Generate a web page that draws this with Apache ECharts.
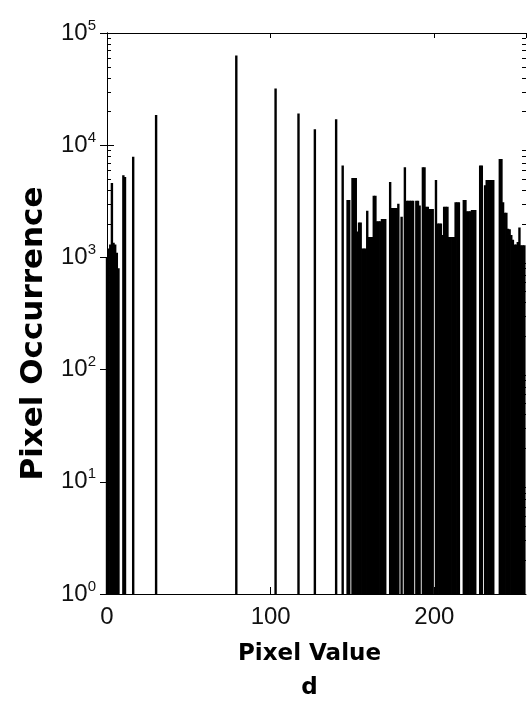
<!DOCTYPE html>
<html>
<head>
<meta charset="utf-8">
<title>Pixel Value histogram</title>
<script src="https://cdn.jsdelivr.net/npm/echarts@6/dist/echarts.min.js"></script>
<style>
    html, body { margin: 0; padding: 0; background: #fff; }
    #chart { width: 529px; height: 701px; }
</style>
</head>
<body>
<div id="chart"></div>
<script>
    // non-empty histogram bins: pixel value and how often it occurs
    const binValues = [
        0, 1, 2, 3, 4, 5, 6, 7, 10, 11, 16, 30, 79, 103, 117, 127, 140,
        144, 147, 148, 150, 151, 152, 153, 154, 155, 156, 157, 158, 159, 160,
        161, 162, 163, 164, 165, 166, 167, 168, 169, 170, 173, 174, 175, 176,
        177, 178, 180, 182, 183, 184, 185, 186, 187, 189, 190, 191, 193, 194,
        195, 196, 197, 198, 199, 201, 202, 203, 204, 205, 206, 207, 208, 209,
        210, 211, 212, 213, 214, 215, 218, 219, 220, 221, 222, 223, 224, 225,
        228, 229, 231, 232, 233, 234, 235, 236, 240, 241, 242, 243, 244, 245,
        246, 247, 248, 249, 250, 251, 252, 253, 254, 255
    ];
    const binCounts = [
        1000, 1200, 1300, 4600, 1350, 1300, 1100, 800, 5400, 5200, 7900, 18600, 63000, 32000, 19200, 13900, 17000,
        6600, 3250, 3250, 5100, 5100, 5100, 1700, 2050, 2050, 1200, 1200, 1200, 2600, 1520,
        1520, 1520, 3540, 3540, 2100, 2100, 2100, 2200, 2200, 2200, 4700, 2750, 2750, 2750,
        2750, 3000, 2300, 6350, 3200, 3200, 3200, 3200, 3200, 3200, 3200, 2900, 6350, 6350,
        2830, 2830, 2700, 2700, 2700, 4900, 2000, 2000, 2000, 1580, 2830, 2830, 2830, 1520,
        1520, 1520, 1520, 3100, 3100, 3100, 3250, 3250, 2580, 2580, 2580, 2650, 2650, 2650,
        6600, 6600, 4400, 4900, 4900, 4900, 4900, 4900, 7550, 7550, 3100, 2500, 2500, 1800,
        1780, 1580, 1440, 1300, 1300, 1370, 1850, 1280, 1280, 1280
    ];

    const xMin = 0;
    const xMax = 256;
    const xTickStep = 100;
    const yMin = 1;
    const yMax = 100000;
    const minorMantissas = [2, 3, 4, 5, 6, 7, 8, 9];
    const decades = [1, 10, 100, 1000, 10000];

    let minorLeft = [];
    let minorRight = [];
    decades.forEach(d => minorMantissas.forEach(m => {
        minorLeft.push([xMin, m * d]);
        minorRight.push([xMax, m * d]);
    }));

    const labelFont = 'Liberation Sans, Arial, sans-serif';
    const nameFont = 'DejaVu Sans, sans-serif';

    // short tick drawn inward from the frame at a log-axis value
    function minorTick(dir, len) {
        return function (params, api) {
            let p = api.coord([api.value(0), api.value(1)]);
            let x = Math.round(p[0]);
            let y = Math.round(p[1]);
            return {
                type: 'rect',
                shape: { x: dir > 0 ? x : x - len, y: y, width: len, height: 1 },
                style: { fill: '#000' }
            };
        };
    }

    let myChart = echarts.init(document.getElementById('chart'));
    let option = {
        animation: false,
        backgroundColor: '#fff',
        grid: {
            left: 107,
            right: 3,
            top: 33,
            bottom: 107,
            containLabel: false,
            outerBoundsMode: 'none'
        },
        xAxis: [
            {
                type: 'value',
                position: 'bottom',
                min: xMin,
                max: xMax,
                interval: xTickStep,
                splitLine: { show: false },
                axisLine: { lineStyle: { color: '#000', width: 1 } },
                axisTick: { inside: true, length: 7, lineStyle: { color: '#000' } },
                axisLabel: {
                    margin: 11,
                    fontSize: 24,
                    color: '#111',
                    fontFamily: labelFont,
                    showMaxLabel: false
                },
                name: 'Pixel Value\nd',
                nameLocation: 'middle',
                nameGap: 43,
                nameTextStyle: {
                    fontFamily: nameFont,
                    fontWeight: 'bold',
                    fontSize: 23,
                    lineHeight: 34,
                    color: '#000',
                    padding: [0, 14, 0, 0]
                }
            },
            {
                type: 'value',
                position: 'top',
                min: xMin,
                max: xMax,
                interval: xTickStep,
                splitLine: { show: false },
                axisLine: { lineStyle: { color: '#000', width: 1 } },
                axisTick: { inside: true, length: 5, lineStyle: { color: '#000' } },
                axisLabel: { show: false }
            }
        ],
        yAxis: [
            {
                type: 'log',
                logBase: 10,
                position: 'left',
                min: yMin,
                max: yMax,
                splitLine: { show: false },
                axisLine: { lineStyle: { color: '#000', width: 1 } },
                axisTick: { inside: true, length: 7, lineStyle: { color: '#000' } },
                axisLabel: {
                    margin: 11,
                    formatter: function (val) {
                        let e = Math.round(Math.log10(val));
                        return '{b|10}{s|' + e + '}';
                    },
                    rich: {
                        b: { fontSize: 24, lineHeight: 30, color: '#111', fontFamily: labelFont },
                        s: { fontSize: 15, lineHeight: 8, verticalAlign: 'top', color: '#111', fontFamily: labelFont }
                    }
                },
                name: 'Pixel Occurrence',
                nameLocation: 'middle',
                nameRotate: 90,
                nameGap: 58,
                nameTextStyle: {
                    fontFamily: nameFont,
                    fontWeight: 'bold',
                    fontSize: 31,
                    color: '#000',
                    padding: [0, 40, 0, 0]
                }
            },
            {
                type: 'log',
                logBase: 10,
                position: 'right',
                min: yMin,
                max: yMax,
                splitLine: { show: false },
                axisLine: { lineStyle: { color: '#000', width: 1 } },
                axisTick: { inside: true, length: 7, lineStyle: { color: '#000' } },
                axisLabel: { show: false }
            }
        ],
        series: [
            {
                name: 'Pixel Occurrence',
                type: 'bar',
                xAxisIndex: 0,
                yAxisIndex: 0,
                barWidth: 2.4,
                silent: true,
                itemStyle: { color: '#000' },
                data: binValues.map((v, i) => [v, binCounts[i]])
            },
            {
                type: 'custom',
                xAxisIndex: 0,
                yAxisIndex: 0,
                silent: true,
                clip: false,
                z: 5,
                data: minorLeft,
                renderItem: minorTick(1, 4)
            },
            {
                type: 'custom',
                xAxisIndex: 0,
                yAxisIndex: 0,
                silent: true,
                clip: false,
                z: 5,
                data: minorRight,
                renderItem: minorTick(-1, 4)
            }
        ]
    };

    myChart.setOption(option);
</script>
</body>
</html>
